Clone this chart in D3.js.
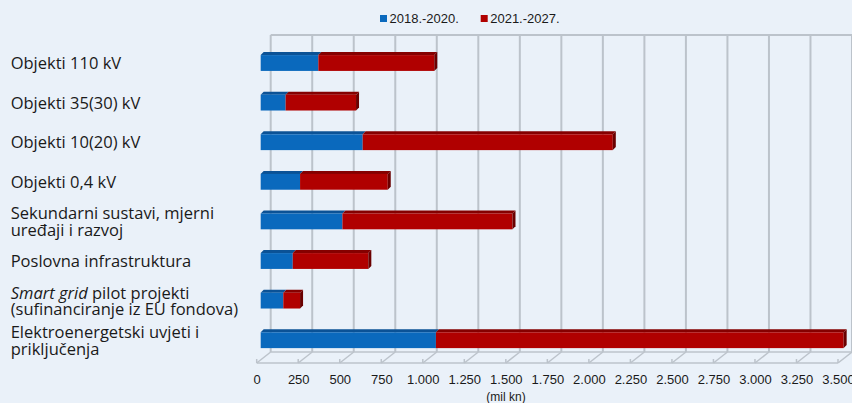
<!DOCTYPE html>
<html>
<head>
<meta charset="utf-8">
<script src="https://cdn.jsdelivr.net/npm/d3@7"></script>
<style>
  html, body { margin: 0; padding: 0; background: #eaf1f9; }
  svg { display: block; }
</style>
</head>
<body>
<div id="chart"></div>
<script>
// --- Data ---
const categories = [
    ["Objekti 110 kV"],
    ["Objekti 35(30) kV"],
    ["Objekti 10(20) kV"],
    ["Objekti 0,4 kV"],
    ["Sekundarni sustavi, mjerni", "uređaji i razvoj"],
    ["Poslovna infrastruktura"],
    ["Smart grid pilot projekti", "(sufinanciranje iz EU fondova)"],
    ["Elektroenergetski uvjeti i", "priključenja"]
];
const italicPrefix = "Smart grid";
const seriesNames = ["2018.-2020.", "2021.-2027."];
const values2018 = [347, 150, 614, 237, 492, 193, 136, 1055];
const values2021 = [698, 424, 1506, 528, 1024, 455, 101, 2455];
const xTicks = [0, 250, 500, 750, 1000, 1250, 1500, 1750, 2000, 2250, 2500, 2750, 3000, 3250, 3500];
const xUnit = "(mil kn)";

// --- Layout ---
const W = 852, H = 403;
const depth = {dx: 14, dy: -11};     // floor / wall depth
const barOff = 4;                   // bar front face offset from front plane
const barDepth = {dx: 3, dy: -3};
const floorY = 363;
const wallTop = 35;

const colors = [
    {front: "#0a69bd", top: "#0b5296", side: "#084780"},
    {front: "#b00000", top: "#850000", side: "#6a0000"}
];

const svg = d3.select("#chart").append("svg")
    .attr("width", W)
    .attr("height", H);

svg.append("rect").attr("width", W).attr("height", H).attr("fill", "#eaf1f9");

const x = d3.scaleLinear().domain([0, 3500]).range([256.7, 838]);
const y = d3.scaleBand()
    .domain(d3.range(categories.length))
    .range([43.2, 360])
    .paddingInner(0.6)
    .paddingOuter(0.3);

const gridColor = "#bcc3cb";

// back wall gridlines
svg.append("g")
    .selectAll("line")
    .data(xTicks)
    .join("line")
    .attr("x1", d => x(d) + depth.dx)
    .attr("x2", d => x(d) + depth.dx)
    .attr("y1", wallTop)
    .attr("y2", floorY + depth.dy)
    .attr("stroke", gridColor)
    .attr("stroke-width", 2);

// top of back wall
svg.append("line")
    .attr("x1", x(0) + depth.dx).attr("x2", W)
    .attr("y1", wallTop).attr("y2", wallTop)
    .attr("stroke", gridColor).attr("stroke-width", 2);

// floor: back edge, front edge, diagonals
const floor = svg.append("g").attr("stroke", gridColor).attr("stroke-width", 1.5).attr("fill", "none");
floor.append("line")
    .attr("x1", x(0) + depth.dx).attr("x2", W)
    .attr("y1", floorY + depth.dy).attr("y2", floorY + depth.dy);
floor.append("line")
    .attr("x1", x(0)).attr("x2", x(3500))
    .attr("y1", floorY).attr("y2", floorY);
floor.selectAll(".diag")
    .data(xTicks)
    .join("line")
    .attr("class", "diag")
    .attr("x1", d => x(d)).attr("y1", floorY)
    .attr("x2", d => x(d) + depth.dx).attr("y2", floorY + depth.dy);
floor.selectAll(".tick")
    .data(xTicks)
    .join("line")
    .attr("class", "tick")
    .attr("x1", d => x(d)).attr("x2", d => x(d))
    .attr("y1", floorY - 4).attr("y2", floorY);

// --- Stacked 3D bars ---
const stackData = categories.map((c, i) => ({i, a: values2018[i], b: values2021[i]}));
const stack = d3.stack().keys(["a", "b"])(stackData);

const bh = y.bandwidth();
const bx = v => x(v) + barOff;

stack.forEach((layer, si) => {
    const g = svg.append("g");
    const c = colors[si];
    // top face
    g.selectAll(".top")
        .data(layer)
        .join("path")
        .attr("class", "top")
        .attr("fill", c.top)
        .attr("d", d => {
            const x0 = bx(d[0]), x1 = bx(d[1]), yt = y(d.data.i);
            return `M${x0},${yt}L${x0 + barDepth.dx},${yt + barDepth.dy}L${x1 + barDepth.dx},${yt + barDepth.dy}L${x1},${yt}Z`;
        });
    // front face
    g.selectAll(".front")
        .data(layer)
        .join("rect")
        .attr("class", "front")
        .attr("x", d => bx(d[0]))
        .attr("y", d => y(d.data.i))
        .attr("width", d => bx(d[1]) - bx(d[0]))
        .attr("height", bh)
        .attr("fill", c.front);
});

// end side face of the last segment
const last = stack[stack.length - 1];
svg.append("g")
    .selectAll("path")
    .data(last)
    .join("path")
    .attr("fill", colors[1].side)
    .attr("d", d => {
        const x1 = bx(d[1]), yt = y(d.data.i);
        return `M${x1},${yt}L${x1 + barDepth.dx},${yt + barDepth.dy}L${x1 + barDepth.dx},${yt + bh + barDepth.dy}L${x1},${yt + bh}Z`;
    });

// --- X axis labels ---
const locale = d3.formatLocale({decimal: ",", thousands: ".", grouping: [3], currency: ["", ""]});
const fmt = locale.format(",d");

const xAxis = svg.append("g")
    .attr("transform", `translate(0,${floorY})`)
    .call(d3.axisBottom(x).tickValues(xTicks).tickFormat(fmt).tickSize(0).tickPadding(11.8));
xAxis.select(".domain").remove();
xAxis.selectAll("text")
    .attr("font-family", "'Liberation Sans', Arial, sans-serif")
    .attr("font-size", 13)
    .attr("fill", "#1a1a1a");

svg.append("text")
    .attr("x", 506).attr("y", 401)
    .attr("text-anchor", "middle")
    .attr("font-family", "'Liberation Sans', Arial, sans-serif")
    .attr("font-size", 12)
    .attr("fill", "#1a1a1a")
    .text(xUnit);

// --- Category labels ---
const lineH = 16.5;
const labels = svg.append("g")
    .attr("font-family", "'Open Sans', 'Noto Sans', sans-serif")
    .attr("font-size", 16.5)
    .attr("fill", "#1a1a1a");

categories.forEach((lines, i) => {
    const cy = y(i) + bh / 2;
    const t = labels.append("text").attr("x", 10.7);
    lines.forEach((ln, li) => {
        const baseY = cy + 6.2 + (li - (lines.length - 1) / 2) * lineH;
        if (ln.startsWith(italicPrefix)) {
            t.append("tspan").attr("x", 10.7).attr("y", baseY)
                .attr("font-style", "italic").text(italicPrefix);
            t.append("tspan").text(ln.slice(italicPrefix.length));
        } else {
            t.append("tspan").attr("x", 10.7).attr("y", baseY).text(ln);
        }
    });
});

// --- Legend ---
const legend = svg.append("g")
    .attr("font-family", "'Liberation Sans', Arial, sans-serif")
    .attr("font-size", 13)
    .attr("fill", "#1a1a1a");
const legendX = [380, 480.7];
seriesNames.forEach((name, i) => {
    legend.append("rect")
        .attr("x", legendX[i]).attr("y", 15)
        .attr("width", 7).attr("height", 7)
        .attr("fill", colors[i].front);
    legend.append("text")
        .attr("x", legendX[i] + 9.5).attr("y", 23.3)
        .text(name);
});
</script>
</body>
</html>
